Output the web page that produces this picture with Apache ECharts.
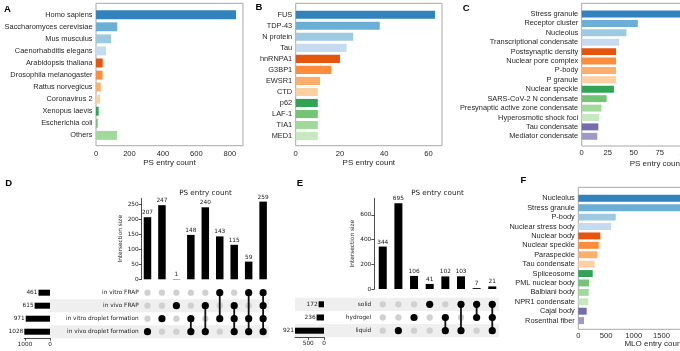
<!DOCTYPE html>
<html>
<head>
<meta charset="utf-8">
<script src="https://cdn.jsdelivr.net/npm/echarts@6/dist/echarts.min.js"></script>
<style>
  html, body { margin: 0; padding: 0; background: #fff; }
  #chart { width: 680px; height: 351px; }
</style>
</head>
<body>
<div id="chart"></div>
<script>
// ---- data ----
var speciesA = ['Homo sapiens', 'Saccharomyces cerevisiae', 'Mus musculus', 'Caenorhabditis elegans',
  'Arabidopsis thaliana', 'Drosophila melanogaster', 'Rattus norvegicus', 'Coronavirus 2',
  'Xenopus laevis', 'Escherichia coli', 'Others'];
var countsA = [836, 127, 90, 60, 40, 39, 28, 24, 16, 10, 125];
var ticksA = [0, 200, 400, 600, 800];

var proteinsB = ['FUS', 'TDP-43', 'N protein', 'Tau', 'hnRNPA1', 'G3BP1', 'EWSR1', 'CTD', 'p62', 'LAF-1', 'TIA1', 'MED1'];
var countsB = [63, 38, 26, 23, 20, 16, 11, 10, 10, 10, 10, 10];
var ticksB = [0, 20, 40, 60];

var condensatesC = ['Stress granule', 'Receptor cluster', 'Nucleolus', 'Transcriptional condensate',
  'Postsynaptic density', 'Nuclear pore complex', 'P-body', 'P granule', 'Nuclear speckle',
  'SARS-CoV-2 N condensate', 'Presynaptic active zone condensate', 'Hyperosmotic shock foci',
  'Tau condensate', 'Mediator condensate'];
var countsC = [136, 54, 43, 36, 33, 33, 33, 33, 31, 24, 19, 17, 16, 15];
var ticksC = [0, 25, 50, 75, 100, 125];

var mloF = ['Nucleolus', 'Stress granule', 'P-body', 'Nuclear stress body', 'Nuclear body',
  'Nuclear speckle', 'Paraspeckle', 'Tau condensate', 'Spliceosome', 'PML nuclear body',
  'Balbiani body', 'NPR1 condensate', 'Cajal body', 'Rosenthal fiber'];
var countsF = [2600, 2450, 675, 590, 397, 368, 343, 294, 260, 193, 187, 181, 151, 103];
var ticksF = [0, 500, 1000, 1500, 2000, 2500];

// upset D
var setsD = ['in vitro FRAP', 'in vivo FRAP', 'in vitro droplet formation', 'in vivo droplet formation'];
var setSizesD = [461, 615, 971, 1028];
var interCountsD = [207, 247, 1, 148, 240, 143, 115, 59, 259];
var interMembersD = [[3], [2], [1], [2, 3], [1, 3], [0, 2], [1, 2, 3], [0, 2, 3], [0, 1, 2, 3]];
var shadedD = [1, 3];
var barTicksD = [0, 50, 100, 150, 200, 250];
var setTicksD = [0, 1000];

// upset E
var setsE = ['solid', 'hydrogel', 'liquid'];
var setSizesE = [172, 236, 921];
var interCountsE = [344, 695, 106, 41, 102, 103, 7, 21];
var interMembersE = [[], [2], [1], [0], [1, 2], [0, 2], [0, 1], [0, 1, 2]];
var shadedE = [0, 2];
var barTicksE = [0, 200, 400, 600];
var setTicksE = [0, 500];

// ---- styles ----
var tab20c = ['#3182bd', '#6baed6', '#9ecae1', '#c6dbef', '#e6550d', '#fd8d3c', '#fdae6b', '#fdd0a2',
  '#31a354', '#74c476', '#a1d99b', '#c7e9c0', '#756bb1', '#9e9ac8', '#bcbddc', '#dadaeb'];
var FONT = 'Liberation Sans';
var UFONT = 'DejaVu Sans';
var TXT = '#262626';
var UTXT = '#222';
var USIZE = 5.8;
var plain = function (v) { return String(v); };   // no thousands separator

var option = {
  animation: false,
  textStyle: { fontFamily: FONT },
  grid: [], xAxis: [], yAxis: [], series: [], graphic: []
};

function addGrid(g) {
  g.outerBoundsMode = 'none';
  option.grid.push(g);
  return option.grid.length - 1;
}

// horizontal bar panel with a grey frame (A, B, C, F)
function barPanel(p) {
  var fg = addGrid({ left: p.left, top: p.frameTop, width: p.width, height: p.frameBottom - p.frameTop,
    show: true, borderColor: '#a8a8a8', borderWidth: 1 });
  option.xAxis.push({
    gridIndex: fg, type: 'value', min: 0, max: p.max,
    axisLine: { show: false, onZero: false }, axisTick: { show: false }, splitLine: { show: false },
    axisLabel: { fontSize: 7.6, color: TXT, margin: p.labelMargin, customValues: p.ticks, formatter: plain },
    name: p.xName, nameLocation: 'middle', nameGap: p.nameGap, nameMoveOverlap: false,
    nameTextStyle: { fontSize: 8, color: TXT }
  });
  option.yAxis.push({ gridIndex: fg, type: 'value', min: 0, max: 1, show: false });

  var ig = addGrid({ left: p.left, top: p.innerTop, width: p.width, height: p.innerHeight });
  var xi = option.xAxis.length;
  option.xAxis.push({ gridIndex: ig, type: 'value', min: 0, max: p.max, show: false });
  var yi = option.yAxis.length;
  option.yAxis.push({
    gridIndex: ig, type: 'category', data: p.cats, inverse: true,
    axisLine: { show: false }, axisTick: { show: false },
    axisLabel: { fontSize: 7.4, color: TXT, margin: 3.5, interval: 0 }
  });
  option.series.push({
    type: 'bar', xAxisIndex: xi, yAxisIndex: yi, data: p.values, barCategoryGap: '26%',
    itemStyle: { color: function (d) { return tab20c[d.dataIndex]; } }
  });
}

// upset plot (D, E)
function upsetPanel(u) {
  var nCol = u.counts.length, nRow = u.names.length;

  // intersection size bars
  var bg = addGrid({ left: u.left, top: u.barTop, width: u.width, height: u.barHeight });
  var xi = option.xAxis.length;
  option.xAxis.push({ gridIndex: bg, type: 'value', min: u.xMin, max: u.xMax, show: false });
  var yi = option.yAxis.length;
  option.yAxis.push({
    gridIndex: bg, type: 'value', min: 0, max: u.yMax,
    axisLine: { show: true, onZero: false, lineStyle: { color: UTXT, width: 0.8 } },
    axisTick: { show: true, length: 3, lineStyle: { color: UTXT, width: 0.8 }, customValues: u.barTicks },
    axisLabel: { fontSize: USIZE, fontFamily: UFONT, color: UTXT, margin: 3, customValues: u.barTicks, formatter: plain },
    splitLine: { show: false },
    name: 'Intersection size', nameLocation: 'middle', nameRotate: 90, nameGap: u.nameGap, nameMoveOverlap: false,
    nameTextStyle: { fontSize: USIZE, fontFamily: UFONT, color: UTXT }
  });
  option.series.push({
    type: 'bar', xAxisIndex: xi, yAxisIndex: yi, barWidth: u.barW,
    data: u.counts.map(function (v, i) { return [i, v]; }),
    itemStyle: { color: '#000' },
    label: { show: true, position: 'top', distance: 1.5, fontSize: USIZE, fontFamily: UFONT, color: UTXT,
      formatter: function (d) { return d.value[1]; } }
  });

  // shaded rows
  var sg = addGrid({ left: u.bandLeft, top: u.mTop, width: u.left + u.width - u.bandLeft, height: u.mHeight });
  xi = option.xAxis.length;
  option.xAxis.push({ gridIndex: sg, type: 'value', min: 0, max: 1, show: false });
  yi = option.yAxis.length;
  option.yAxis.push({ gridIndex: sg, type: 'category', data: u.names, inverse: true, show: false });
  option.series.push({
    type: 'custom', xAxisIndex: xi, yAxisIndex: yi, z: 0, silent: true,
    data: u.shaded.map(function (r) { return [0, r]; }),
    encode: { x: 0, y: 1 },
    renderItem: function (params, api) {
      var row = api.value(1);
      var p0 = api.coord([0, row]);
      var p1 = api.coord([1, row]);
      var h = api.size([0, 1])[1];
      return { type: 'rect', shape: { x: p0[0], y: p0[1] - h / 2, width: p1[0] - p0[0], height: h },
        style: { fill: '#efefef' } };
    }
  });

  // matrix
  var mg = addGrid({ left: u.left, top: u.mTop, width: u.width, height: u.mHeight });
  xi = option.xAxis.length;
  option.xAxis.push({ gridIndex: mg, type: 'value', min: u.xMin, max: u.xMax, show: false });
  yi = option.yAxis.length;
  option.yAxis.push({
    gridIndex: mg, type: 'category', data: u.names, inverse: true,
    axisLine: { show: false }, axisTick: { show: false },
    axisLabel: { fontSize: USIZE, fontFamily: UFONT, color: UTXT, margin: 3, interval: 0 }
  });
  var on = [], off = [], links = [];
  for (var c = 0; c < nCol; c++) {
    var m = u.members[c];
    for (var r = 0; r < nRow; r++) {
      if (m.indexOf(r) >= 0) on.push([c, r]); else off.push([c, r]);
    }
    if (m.length > 1) links.push([c, Math.min.apply(null, m), Math.max.apply(null, m)]);
  }
  option.series.push({
    type: 'scatter', xAxisIndex: xi, yAxisIndex: yi, z: 2, symbolSize: 6.3,
    itemStyle: { color: '#d0d0d0', opacity: 1 }, data: off
  });
  option.series.push({
    type: 'custom', xAxisIndex: xi, yAxisIndex: yi, z: 3, data: links,
    encode: { x: 0, y: 1 },
    renderItem: function (params, api) {
      var a = api.coord([api.value(0), api.value(1)]);
      var b = api.coord([api.value(0), api.value(2)]);
      return { type: 'line', shape: { x1: a[0], y1: a[1], x2: b[0], y2: b[1] },
        style: { stroke: '#111', lineWidth: 1.8 } };
    }
  });
  option.series.push({
    type: 'scatter', xAxisIndex: xi, yAxisIndex: yi, z: 4, symbolSize: 7.2,
    itemStyle: { color: '#000', opacity: 1 }, data: on
  });

  // set sizes
  var zg = addGrid({ left: u.setLeft, top: u.mTop, width: u.setWidth, height: u.mHeight });
  xi = option.xAxis.length;
  option.xAxis.push({
    gridIndex: zg, type: 'value', min: 0, max: u.setMax, inverse: true,
    axisLine: { show: true, onZero: false, lineStyle: { color: UTXT, width: 0.8 } },
    axisTick: { show: true, length: 2.5, lineStyle: { color: UTXT, width: 0.8 }, customValues: u.setTicks },
    axisLabel: { fontSize: USIZE, fontFamily: UFONT, color: UTXT, margin: 3, customValues: u.setTicks, formatter: plain },
    splitLine: { show: false }
  });
  yi = option.yAxis.length;
  option.yAxis.push({ gridIndex: zg, type: 'category', data: u.names, inverse: true, show: false });
  option.series.push({
    type: 'bar', xAxisIndex: xi, yAxisIndex: yi, z: 3, barWidth: 6, data: u.sizes,
    itemStyle: { color: '#000' },
    label: { show: true, position: 'left', distance: 1, fontSize: USIZE, fontFamily: UFONT, color: UTXT }
  });
}

barPanel({ cats: speciesA, values: countsA, ticks: ticksA, max: 878, xName: 'PS entry count',
  left: 96, width: 147, frameTop: 3.3, frameBottom: 145.7, innerTop: 8.7, innerHeight: 132.7,
  labelMargin: 3.8, nameGap: 13 });
barPanel({ cats: proteinsB, values: countsB, ticks: ticksB, max: 66.15, xName: 'PS entry count',
  left: 295.7, width: 146.3, frameTop: 3.3, frameBottom: 145.7, innerTop: 9.2, innerHeight: 132.4,
  labelMargin: 4.2, nameGap: 12.6 });
barPanel({ cats: condensatesC, values: countsC, ticks: ticksC, max: 142.8, xName: 'PS entry count',
  left: 581.7, width: 148.5, frameTop: 3.3, frameBottom: 146, innerTop: 9.3, innerHeight: 131.7,
  labelMargin: 3.3, nameGap: 13.3 });
barPanel({ cats: mloF, values: countsF, ticks: ticksF, max: 2730, xName: 'MLO entry count',
  left: 578.3, width: 151.4, frameTop: 187.3, frameBottom: 329.3, innerTop: 193.6, innerHeight: 131.7,
  labelMargin: 2.6, nameGap: 10.7 });

upsetPanel({ names: setsD, sizes: setSizesD, counts: interCountsD, members: interMembersD, shaded: shadedD,
  barTicks: barTicksD, setTicks: setTicksD,
  left: 141.7, width: 127.2, xMin: -0.4, xMax: 8.4,
  barTop: 198.3, barHeight: 81, yMax: 270, barW: 7.5, nameGap: 18.5,
  mTop: 286.2, mHeight: 52, bandLeft: 50,
  setLeft: 24.25, setWidth: 25.75, setMax: 1030 });
upsetPanel({ names: setsE, sizes: setSizesE, counts: interCountsE, members: interMembersE, shaded: shadedE,
  barTicks: barTicksE, setTicks: setTicksE,
  left: 374.3, width: 124.7, xMin: -0.54, xMax: 7.43,
  barTop: 198.3, barHeight: 90.7, yMax: 735, barW: 8, nameGap: 19,
  mTop: 297.7, mHeight: 39.6, bandLeft: 295,
  setLeft: 295, setWidth: 29, setMax: 921 });

// panel letters and upset titles
function addText(t, x, y, size, font, bold, color) {
  option.graphic.push({ type: 'text', x: x, y: y, z: 10, silent: true,
    style: { text: t, fontSize: size, fontFamily: font, fontWeight: bold ? 'bold' : 'normal',
      fill: color, align: 'center', verticalAlign: 'middle' } });
}
addText('A', 7.5, 9, 9.5, FONT, true, '#000');
addText('B', 259, 7.7, 9.5, FONT, true, '#000');
addText('C', 466.3, 8.4, 9.5, FONT, true, '#000');
addText('D', 8.8, 183.4, 9.5, FONT, true, '#000');
addText('E', 300, 183.4, 9.5, FONT, true, '#000');
addText('F', 523.3, 180.7, 9.5, FONT, true, '#000');
addText('PS entry count', 205.5, 192.7, 7.2, UFONT, false, UTXT);
addText('PS entry count', 437.5, 193.3, 7.2, UFONT, false, UTXT);

var chart = echarts.init(document.getElementById('chart'), null, { renderer: 'canvas' });
chart.setOption(option);
</script>
</body>
</html>
